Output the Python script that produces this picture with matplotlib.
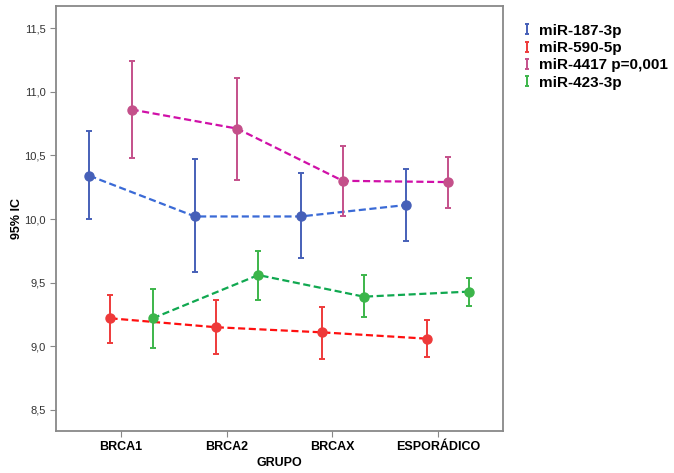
import numpy as np
import matplotlib
matplotlib.use("Agg")
import matplotlib.pyplot as plt
from matplotlib.lines import Line2D
from matplotlib.path import Path
from matplotlib.ticker import FuncFormatter

plt.rcParams['font.family'] = ['Liberation Sans', 'DejaVu Sans']

grupos = ["BRCA1", "BRCA2", "BRCAX", "ESPORÁDICO"]
series = ["miR-187-3p", "miR-590-5p", "miR-4417 p=0,001", "miR-423-3p"]

# medias e IC 95% (inferior, superior)
media_187 = [10.34, 10.02, 10.02, 10.11]
inf_187 = [10.00, 9.58, 9.69, 9.83]
sup_187 = [10.69, 10.47, 10.36, 10.39]

media_590 = [9.22, 9.15, 9.11, 9.06]
inf_590 = [9.03, 8.94, 8.90, 8.92]
sup_590 = [9.40, 9.36, 9.31, 9.21]

media_4417 = [10.86, 10.71, 10.30, 10.29]
inf_4417 = [10.48, 10.31, 10.02, 10.09]
sup_4417 = [11.24, 11.11, 10.57, 10.49]

media_423 = [9.22, 9.56, 9.39, 9.43]
inf_423 = [8.99, 9.36, 9.23, 9.32]
sup_423 = [9.45, 9.75, 9.56, 9.54]

medias = [media_187, media_590, media_4417, media_423]
infs = [inf_187, inf_590, inf_4417, inf_423]
sups = [sup_187, sup_590, sup_4417, sup_423]
desplaz = [-0.3, -0.1, 0.1, 0.3]
col_barra = ["#4660B8", "#EE3A3A", "#C4508A", "#3CB54A"]
col_linea = ["#3A6AD6", "#FF1010", "#D010A8", "#10A850"]

fig = plt.figure(figsize=(6.74, 4.73), dpi=100)
ax = fig.add_axes([0.0831, 0.0888, 0.6632, 0.8985])

x = np.arange(1, 5)
for i in range(4):
    xs = x + desplaz[i]
    m = np.array(medias[i])
    lo = m - np.array(infs[i])
    hi = np.array(sups[i]) - m
    ax.plot(xs, m, color=col_linea[i], lw=1.6, dashes=(3.2, 1.6), zorder=2)
    ax.errorbar(xs, m, yerr=[lo, hi], fmt='o', color=col_barra[i], ms=6.5,
                elinewidth=1.4, capsize=2.5, capthick=1.4, zorder=3)

ax.set_xlim(0.384, 4.618)
ax.set_ylim(8.335, 11.673)
ax.set_xticks(x)
ax.set_xticklabels(grupos, fontsize=9, fontweight='bold')
ax.set_yticks([8.5, 9.0, 9.5, 10.0, 10.5, 11.0, 11.5])
ax.yaxis.set_major_formatter(FuncFormatter(lambda v, p: f"{v:.1f}".replace('.', ',')))
ax.tick_params(axis='y', labelsize=8, labelcolor='#333333', length=4, color='#888888')
ax.tick_params(axis='x', length=4, color='#888888', pad=3)
for s in ax.spines.values():
    s.set_color('#888888')
    s.set_linewidth(1.3)
ax.set_xlabel("GRUPO", fontsize=9, fontweight='bold', labelpad=3)
ax.set_ylabel("95% IC", fontsize=9, fontweight='bold', labelpad=1)

# marcador tipo "I" (barra de error) para la leyenda
marca_i = Path([(-0.45, 1), (0.45, 1), (0, 1), (0, -1), (-0.45, -1), (0.45, -1)],
               [Path.MOVETO, Path.LINETO, Path.MOVETO, Path.LINETO, Path.MOVETO, Path.LINETO])
handles = [Line2D([], [], ls='none', marker=marca_i, ms=6.5, mew=1.4, color=c) for c in col_barra]
fig.legend(handles, series, loc='upper left', bbox_to_anchor=(0.755, 0.979),
           frameon=False, prop={'size': 11, 'weight': 'bold'}, handlelength=0.6,
           handletextpad=0.5, labelspacing=0.22)

fig.savefig("out.png", dpi=100)
